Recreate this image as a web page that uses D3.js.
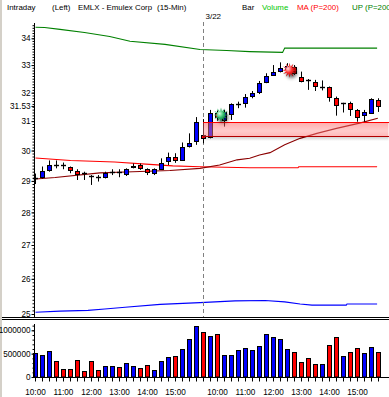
<!DOCTYPE html>
<html>
<head>
<meta charset="utf-8">
<script src="https://cdn.jsdelivr.net/npm/d3@7"></script>
<style>
html, body { margin: 0; padding: 0; background: #fff; }
svg { display: block; font-family: "Liberation Sans", Arial, sans-serif; }
</style>
</head>
<body>
<svg id="chart" width="389" height="397"></svg>
<script>
// 15-min bars, two sessions
const times = [
  "10:00","10:15","10:30","10:45","11:00","11:15","11:30","11:45","12:00","12:15","12:30","12:45",
  "13:00","13:15","13:30","13:45","14:00","14:15","14:30","14:45","15:00","15:15","15:30","15:45",
  "9:30","9:45","10:00","10:15","10:30","10:45","11:00","11:15","11:30","11:45","12:00","12:15",
  "12:30","12:45","13:00","13:15","13:30","13:45","14:00","14:15","14:30","14:45","15:00","15:15",
  "15:30","15:45"
];
const sessionStart = [24];
const sessionLabel = ["3/22"];

const open = [
  29.10,29.13,29.36,29.52,29.52,29.45,29.33,29.25,29.16,29.12,
  29.12,29.30,29.30,29.23,29.47,29.52,29.38,29.25,29.41,29.66,
  29.80,29.69,30.13,30.32,30.52,30.45,31.28,31.04,31.23,31.59,
  31.64,31.86,32.03,32.37,32.66,32.76,32.86,32.93,32.58,32.44,
  32.37,32.22,32.19,31.82,31.62,31.62,31.39,31.21,31.30,31.74
];
const high = [
  29.24,29.47,29.67,29.67,29.60,29.47,29.38,29.30,29.19,29.19,
  29.30,29.38,29.38,29.41,29.57,29.57,29.41,29.41,29.74,29.93,
  29.91,30.27,30.58,31.14,31.07,31.39,31.37,31.39,31.62,31.68,
  31.95,32.06,32.42,32.70,33.00,33.10,33.07,33.00,32.76,32.49,
  32.46,32.44,32.22,31.86,31.64,31.68,31.42,31.39,31.80,31.80
];
const low = [
  28.90,29.08,29.30,29.41,29.38,29.25,29.03,29.03,28.87,28.98,
  29.08,29.19,29.12,29.16,29.41,29.36,29.19,29.19,29.40,29.52,
  29.59,29.67,30.10,30.19,30.24,30.41,31.01,30.81,31.04,31.45,
  31.47,31.80,31.95,32.34,32.64,32.73,32.78,32.64,32.37,32.10,
  32.06,32.08,31.68,31.19,31.30,31.18,30.98,30.98,31.27,31.32
];
const close = [
  29.10,29.33,29.52,29.52,29.52,29.34,29.23,29.25,29.16,29.12,
  29.25,29.30,29.30,29.38,29.50,29.43,29.27,29.38,29.60,29.80,
  29.69,30.11,30.24,30.97,30.41,31.28,31.14,31.32,31.59,31.59,
  31.84,31.98,32.34,32.60,32.76,32.88,32.96,32.71,32.42,32.44,
  32.22,32.22,31.82,31.59,31.62,31.41,31.16,31.30,31.78,31.53
];
const volume = [
  514000,471000,550000,336000,164000,164000,357000,121000,336000,143000,
  229000,229000,207000,293000,229000,186000,250000,143000,336000,421000,
  443000,593000,807000,1086000,
  957000,871000,914000,464000,464000,571000,614000,571000,657000,914000,
  850000,807000,593000,529000,314000,400000,271000,271000,679000,850000,
  443000,529000,614000,507000,636000,529000
];
// 1 = up tick (blue), 0 = down tick (red)
const volUp = [
  1,1,1,0,0,0,0,0,0,0, 1,1,0,1,1,0,0,1,1,1, 0,1,1,1,
  0,1,0,1,1,1,1,1,1,1, 1,1,1,0,0,0,0,1,0,0, 1,0,0,1,1,0
];

// indicator lines: bar position / value
const upBar = [0, 1.3, 3.5, 7.0, 10.6, 13.5, 18.5, 23.5, 27.3, 30.6, 35.3, 35.6, 48.8];
const upVal = [34.42, 34.41, 34.34, 34.22, 34.07, 33.89, 33.77, 33.58, 33.54, 33.50, 33.47, 33.63, 33.63];
const maBar = [0, 2, 5, 11.3, 16.3, 19.6, 23.5, 30.6, 37.5, 37.6, 48.8];
const maVal = [29.75, 29.72, 29.67, 29.62, 29.54, 29.49, 29.46, 29.43, 29.43, 29.46, 29.46];
const avgBar = [0, 2.8, 9.2, 13.9, 19.2, 23.5, 26.3, 28.8, 30.6, 32, 33.5, 35.6, 37.8, 40.2, 43, 46.3, 48.9];
const avgVal = [29.06, 29.11, 29.26, 29.30, 29.34, 29.41, 29.52, 29.69, 29.74, 29.85, 29.93, 30.19, 30.41, 30.58, 30.75, 30.93, 31.10];
const lowBar = [0, 3.5, 7.5, 9.9, 12.8, 17.8, 23.5, 28.5, 32.8, 35.6, 37.8, 39.5, 44.4, 44.5, 48.8];
const lowVal = [25.05, 25.08, 25.10, 25.14, 25.19, 25.27, 25.32, 25.37, 25.38, 25.34, 25.28, 25.25, 25.25, 25.28, 25.28];

const zoneLow = 30.49, zoneHigh = 30.98, zoneBar = 24;
const signalBar = [26.5, 36.3];
const signalPrice = [31.21, 32.81];
const signalType = ["up", "down"];

const priceTicks = [25, 26, 27, 28, 29, 30, 31, 32, 33, 34];
const volTicks = [0, 500000, 1000000];

const BLUE = "#0000ff", RED = "#ff0000";
const W = 389, H = 397;
const svg = d3.select("#chart");

const x = d3.scaleLinear().domain([0, 49]).range([35.5, 378.5]);
const y = d3.scaleLog().domain([25, 34]).range([314, 38.3]);
const yv = d3.scaleLinear().domain([0, 1000000]).range([377, 330.3]);
const cx = i => Math.floor(x(i)) + 0.5;
const snap = v => Math.round(v) + 0.5;

const defs = svg.append("defs");
defs.append("clipPath").attr("id", "clipPrice")
  .append("rect").attr("x", 30).attr("y", 22).attr("width", W - 30).attr("height", 295);

const bandGrad = defs.append("linearGradient").attr("id", "bandGrad")
  .attr("x1", 0).attr("y1", 0).attr("x2", 0).attr("y2", 1);
bandGrad.append("stop").attr("offset", "0%").attr("stop-color", "rgb(255,90,90)").attr("stop-opacity", 0.5);
bandGrad.append("stop").attr("offset", "60%").attr("stop-color", "rgb(255,140,140)").attr("stop-opacity", 0.45);
bandGrad.append("stop").attr("offset", "100%").attr("stop-color", "rgb(255,110,110)").attr("stop-opacity", 0.5);
const shadeGrad = defs.append("linearGradient").attr("id", "shadeGrad")
  .attr("x1", 0).attr("y1", 0).attr("x2", 0).attr("y2", 1);
shadeGrad.append("stop").attr("offset", "0%").attr("stop-color", "#000").attr("stop-opacity", 0.18);
shadeGrad.append("stop").attr("offset", "100%").attr("stop-color", "#000").attr("stop-opacity", 0);

const starColors = { up: ["#d8ffe4", "#2fbf6a", "#00562c"], down: ["#ffd8d8", "#ff2a2a", "#8a0000"] };
Object.entries(starColors).forEach(([k, c]) => {
  const g = defs.append("radialGradient").attr("id", "star-" + k).attr("cx", "40%").attr("cy", "40%").attr("r", "60%");
  g.append("stop").attr("offset", "0%").attr("stop-color", c[0]);
  g.append("stop").attr("offset", "45%").attr("stop-color", c[1]);
  g.append("stop").attr("offset", "100%").attr("stop-color", c[2]);
});
defs.append("filter").attr("id", "blur").attr("x", "-50%").attr("y", "-50%").attr("width", "200%").attr("height", "200%")
  .append("feGaussianBlur").attr("stdDeviation", 1.6);

// background + left frame strip
svg.append("rect").attr("width", W).attr("height", H).attr("fill", "#fff");
svg.append("rect").attr("width", 2).attr("height", H).attr("fill", "#d4d0c8");

// header
const header = [
  { t: "Intraday", x: 7, c: "#000" },
  { t: "(Left)", x: 52, c: "#000" },
  { t: "EMLX - Emulex Corp", x: 78, c: "#000" },
  { t: "(15-Min)", x: 157, c: "#000" },
  { t: "Bar", x: 242, c: "#000" },
  { t: "Volume", x: 262, c: "#00c800" },
  { t: "MA (P=200)", x: 297, c: "#ff0000" },
  { t: "UP (P=200)", x: 352, c: "#008000" }
];
svg.append("g").selectAll("text").data(header).join("text")
  .attr("x", d => d.x).attr("y", 9.5)
  .attr("font-size", 7.9).attr("fill", d => d.c)
  .text(d => d.t);

// price panel
const price = svg.append("g").attr("clip-path", "url(#clipPrice)");

const line = d3.line().x(d => x(d[0])).y(d => y(d[1]));
[[upBar, upVal, "#008000"], [maBar, maVal, "#ff0000"], [avgBar, avgVal, "#8b0000"], [lowBar, lowVal, "#0000ff"]]
  .forEach(([b, v, col]) => {
    price.append("path").datum(d3.zip(b, v)).attr("d", line)
      .attr("fill", "none").attr("stroke", col).attr("stroke-width", 1.1);
  });

// session separators
sessionStart.forEach((s, k) => {
  price.append("line").attr("x1", cx(s)).attr("x2", cx(s)).attr("y1", 22).attr("y2", 317)
    .attr("stroke", "#808080").attr("stroke-dasharray", "4,3");
  svg.append("text").attr("x", cx(s) + 2).attr("y", 19.3).attr("font-size", 8).text(sessionLabel[k]);
});

// candles
const idx = d3.range(close.length);
const cg = price.append("g");
cg.selectAll(".wick").data(idx).join("line")
  .attr("x1", cx).attr("x2", cx)
  .attr("y1", i => y(high[i])).attr("y2", i => y(low[i]))
  .attr("stroke", "#000").attr("stroke-width", 1);
cg.selectAll(".body").data(idx.filter(i => open[i] !== close[i])).join("rect")
  .attr("x", i => cx(i) - 2).attr("width", 4)
  .attr("y", i => snap(y(Math.max(open[i], close[i]))))
  .attr("height", i => Math.max(1, Math.round(y(Math.min(open[i], close[i])) - y(Math.max(open[i], close[i])))))
  .attr("fill", i => close[i] > open[i] ? BLUE : RED)
  .attr("stroke", "#000").attr("stroke-width", 1);
cg.selectAll(".doji").data(idx.filter(i => open[i] === close[i])).join("line")
  .attr("x1", i => cx(i) - 2.5).attr("x2", i => cx(i) + 2.5)
  .attr("y1", i => snap(y(close[i]))).attr("y2", i => snap(y(close[i])))
  .attr("stroke", "#000").attr("stroke-width", 1.4);

// zone band (translucent over candles)
const zTop = snap(y(zoneHigh)), zBot = snap(y(zoneLow));
price.append("rect").attr("x", x(zoneBar) - 0.5).attr("width", W - x(zoneBar))
  .attr("y", zTop).attr("height", zBot - zTop).attr("fill", "url(#bandGrad)");
price.append("rect").attr("x", x(zoneBar) - 0.5).attr("width", W - x(zoneBar))
  .attr("y", zBot + 0.5).attr("height", 4).attr("fill", "url(#shadeGrad)");
price.append("line").attr("x1", x(zoneBar) - 0.5).attr("x2", W).attr("y1", zTop).attr("y2", zTop)
  .attr("stroke", "#ff0000");
price.append("line").attr("x1", x(zoneBar) - 0.5).attr("x2", W).attr("y1", zBot).attr("y2", zBot)
  .attr("stroke", "#b00000");

// signal stars
const starPts = d3.range(24).map(k => {
  const r = k % 2 ? 3.6 : 7.5, a = Math.PI * k / 12;
  return [r * Math.sin(a), -r * Math.cos(a)];
});
const starD = d3.line()(starPts) + "Z";
signalBar.forEach((b, k) => {
  const g = price.append("g").attr("transform", `translate(${x(b)},${y(signalPrice[k])})`);
  g.append("path").attr("d", starD).attr("transform", "translate(2,2.5)")
    .attr("fill", "#000").attr("opacity", 0.6).attr("filter", "url(#blur)");
  g.append("path").attr("d", starD).attr("fill", `url(#star-${signalType[k]})`);
});

// price axis
const pAxis = svg.append("g").attr("transform", "translate(34.5,0)");
pAxis.append("line").attr("y1", 23).attr("y2", 317).attr("stroke", "#000");
pAxis.append("g").call(d3.axisLeft(y).tickValues(d3.range(250, 346).map(d => d / 10)).tickSize(2).tickFormat(""))
  .call(g => g.select(".domain").remove());
pAxis.append("g").call(d3.axisLeft(y).tickValues([...priceTicks, close[close.length - 1]]).tickSize(3).tickPadding(1)
    .tickFormat(d => Number.isInteger(d) ? d : d.toFixed(2)))
  .call(g => g.select(".domain").remove())
  .call(g => g.selectAll("text").attr("font-size", 8.2).attr("font-family", "Liberation Sans, Arial, sans-serif"));

// panel divider
[317.5, 319.5].forEach(v => svg.append("line").attr("x1", 2).attr("x2", W).attr("y1", v).attr("y2", v).attr("stroke", "#000"));

// volume bars
svg.append("g").selectAll("rect").data(idx).join("rect")
  .attr("x", i => cx(i) - 2).attr("width", 4)
  .attr("y", i => snap(yv(volume[i])))
  .attr("height", i => 377 - snap(yv(volume[i])))
  .attr("fill", i => volUp[i] ? BLUE : RED)
  .attr("stroke", "#000").attr("stroke-width", 1);

// volume axis
const vAxis = svg.append("g").attr("transform", "translate(34.5,0)");
vAxis.append("line").attr("y1", 324).attr("y2", 378).attr("stroke", "#000");
vAxis.append("g").call(d3.axisLeft(yv).tickValues(d3.range(0, 1100001, 100000)).tickSize(2).tickFormat(""))
  .call(g => g.select(".domain").remove());
vAxis.append("g").call(d3.axisLeft(yv).tickValues(volTicks).tickSize(3).tickPadding(1).tickFormat(d3.format("d")))
  .call(g => g.select(".domain").remove())
  .call(g => g.selectAll("text").attr("font-size", 8.2).attr("font-family", "Liberation Sans, Arial, sans-serif"));

// time axis
const tAxis = svg.append("g");
tAxis.append("line").attr("x1", 34).attr("x2", W).attr("y1", 377.5).attr("y2", 377.5).attr("stroke", "#000");
tAxis.selectAll(".tk").data(idx).join("line")
  .attr("x1", cx).attr("x2", cx).attr("y1", 377.5).attr("y2", 381.5).attr("stroke", "#000");
tAxis.selectAll("text").data(idx.filter(i => times[i].endsWith(":00"))).join("text")
  .attr("x", i => cx(i)).attr("y", 394.5).attr("text-anchor", "middle")
  .attr("font-size", 8.2).text(i => times[i]);
</script>
</body>
</html>
